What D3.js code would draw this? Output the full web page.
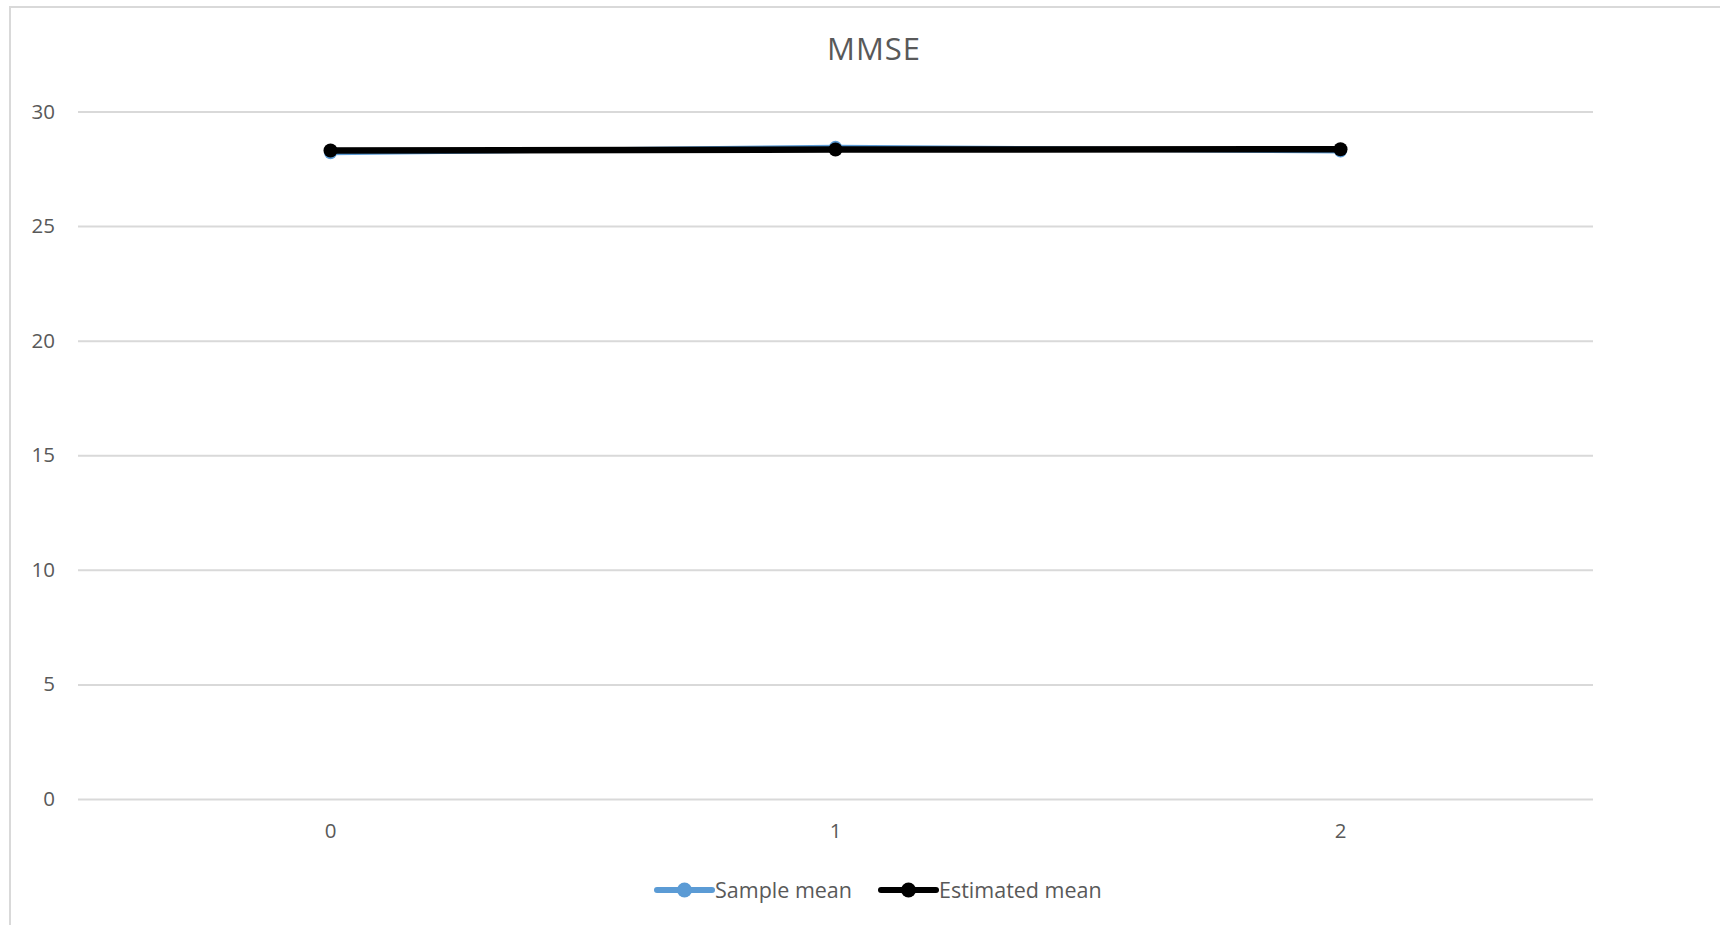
<!DOCTYPE html>
<html>
<head>
<meta charset="utf-8">
<script src="https://cdn.jsdelivr.net/npm/d3@7"></script>
<style>
  html, body { margin: 0; padding: 0; background: #ffffff; }
  svg { display: block; }
  text { font-family: "Open Sans", "Liberation Sans", sans-serif; fill: #595959; }
</style>
</head>
<body>
<svg id="chart" width="1720" height="925"></svg>
<script>
// MMSE scores by visit
const categories = ["0", "1", "2"];
const sampleMean = [28.2, 28.44, 28.28];
const estimatedMean = [28.3, 28.34, 28.35];
const yTicks = [0, 5, 10, 15, 20, 25, 30];
const chartTitle = "MMSE";
const seriesNames = ["Sample mean", "Estimated mean"];

const svg = d3.select("#chart");

// outer chart frame
svg.append("rect")
  .attr("x", 10).attr("y", 7)
  .attr("width", 1760).attr("height", 960)
  .attr("fill", "none")
  .attr("stroke", "#d9d9d9")
  .attr("stroke-width", 2);

const plot = { left: 78, right: 1593, top: 111.5, bottom: 799 };

const x = d3.scaleBand().domain(categories).range([plot.left, plot.right]);
const y = d3.scaleLinear().domain([0, 30]).range([plot.bottom, plot.top]);
const cx = d => x(d) + x.bandwidth() / 2;

// horizontal gridlines + y labels
const yAxis = d3.axisLeft(y).tickValues(yTicks)
  .tickSize(-(plot.right - plot.left)).tickPadding(23);
const gy = svg.append("g").attr("transform", `translate(${plot.left},0)`).call(yAxis);
gy.select(".domain").remove();
gy.selectAll(".tick line").attr("stroke", "#d9d9d9").attr("stroke-width", 2);
gy.selectAll(".tick text")
  .attr("font-size", 20.5)
  .attr("fill", "#595959")
  .style("font-family", "'Open Sans', sans-serif");

// x labels
const xAxis = d3.axisBottom(x).tickSize(0).tickPadding(24);
const gx = svg.append("g").attr("transform", `translate(0,${plot.bottom})`).call(xAxis);
gx.select(".domain").remove();
gx.selectAll(".tick text")
  .attr("font-size", 20.5)
  .attr("fill", "#595959")
  .style("font-family", "'Open Sans', sans-serif");

// title
svg.append("text")
  .attr("x", 874).attr("y", 60)
  .attr("text-anchor", "middle")
  .attr("font-size", 31)
  .attr("letter-spacing", 1)
  .text(chartTitle);

const line = d3.line().x((d, i) => cx(categories[i])).y(d => y(d));

const series = [
  { name: seriesNames[0], values: sampleMean, color: "#5b9bd5", width: 5, r: 6.5 },
  { name: seriesNames[1], values: estimatedMean, color: "#000000", width: 6.5, r: 7 }
];

series.forEach(s => {
  const g = svg.append("g");
  g.append("path")
    .datum(s.values)
    .attr("d", line)
    .attr("fill", "none")
    .attr("stroke", s.color)
    .attr("stroke-width", s.width)
    .attr("stroke-linejoin", "round")
    .attr("stroke-linecap", "round");
  g.selectAll("circle")
    .data(s.values)
    .join("circle")
    .attr("cx", (d, i) => cx(categories[i]))
    .attr("cy", d => y(d))
    .attr("r", s.r)
    .attr("fill", s.color);
});

// legend
const legendItems = [
  { x0: 657, text: 715 },
  { x0: 881, text: 939 }
];
const ly = 890;
series.forEach((s, i) => {
  const li = legendItems[i];
  const g = svg.append("g");
  g.append("line")
    .attr("x1", li.x0).attr("x2", li.x0 + 55)
    .attr("y1", ly).attr("y2", ly)
    .attr("stroke", s.color)
    .attr("stroke-width", 6)
    .attr("stroke-linecap", "round");
  g.append("circle")
    .attr("cx", li.x0 + 27.5).attr("cy", ly)
    .attr("r", 7.5)
    .attr("fill", s.color);
  g.append("text")
    .attr("x", li.text).attr("y", ly + 7.5)
    .attr("font-size", 21.5)
    .text(s.name);
});
</script>
</body>
</html>
